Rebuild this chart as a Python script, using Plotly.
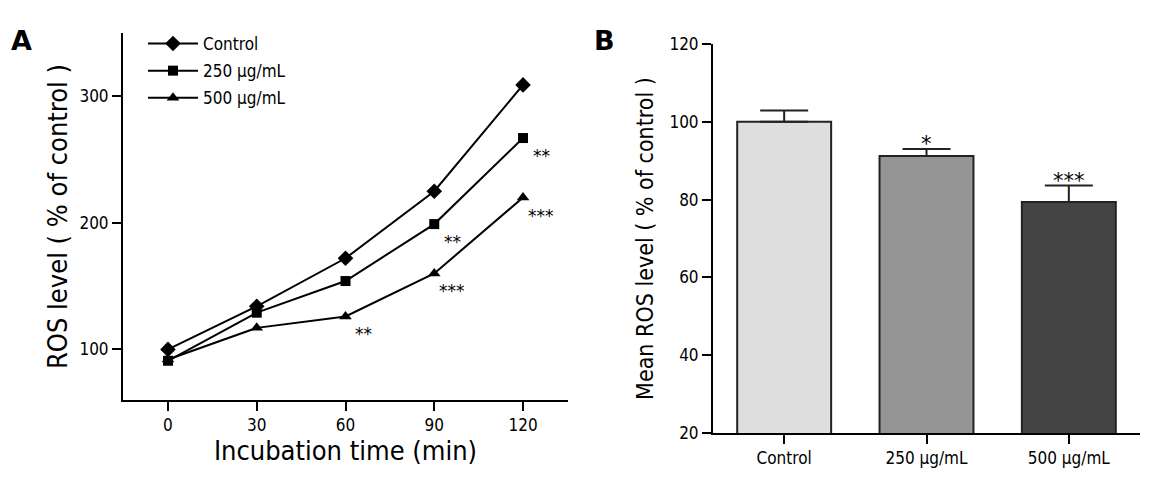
import plotly.graph_objects as go

# ---------------- data ----------------
time_min = [0, 30, 60, 90, 120]
control_line = [100, 134, 172, 225, 309]
dose250_line = [91, 129, 154, 199, 267]
dose500_line = [92, 117, 126, 160, 220]
line_names = ["Control", "250 μg/mL", "500 μg/mL"]

# significance marks for panel A: (series index, time index, label)
sig_a_series = [2, 1, 2, 1, 2]
sig_a_time = [2, 3, 3, 4, 4]
sig_a_label = ["**", "**", "***", "**", "***"]

bar_groups = ["Control", "250 μg/mL", "500 μg/mL"]
bar_means = [100.0, 91.2, 79.4]
bar_err = [2.9, 1.8, 4.2]
bar_sig = ["", "*", "***"]

bar_colors = ["#dedede", "#959595", "#444444"]
FONT = "DejaVu Sans Condensed, DejaVu Sans, sans-serif"
W, H = 1160, 481
OFF = 8  # page body margin


def X(px):
    return (px - OFF) / W


def Y(py):
    return 1 - (py - OFF) / H


fig = go.Figure()

series = [control_line, dose250_line, dose500_line]
symbols = ["diamond", "square", "triangle-up"]
sizes = [12, 10, 11]
for i, (vals, sym, sz) in enumerate(zip(series, symbols, sizes)):
    fig.add_trace(go.Scatter(
        x=time_min, y=vals, mode="lines+markers", name=line_names[i],
        legendgroup=f"g{i}",
        line=dict(color="black", width=2),
        marker=dict(symbol=sym, size=sz, color="black"),
        xaxis="x", yaxis="y",
    ))

fig.add_trace(go.Bar(
    x=bar_groups, y=bar_means, width=0.66,
    marker=dict(color=bar_colors, line=dict(color="#222222", width=2)),
    error_y=dict(type="data", array=bar_err, arrayminus=[0, 0, 0],
                 symmetric=False, color="#222222", thickness=2, width=24),
    showlegend=False, xaxis="x2", yaxis="y2",
))

# significance annotations
for s, t, lab in zip(sig_a_series, sig_a_time, sig_a_label):
    fig.add_annotation(x=time_min[t], y=series[s][t], xref="x", yref="y",
                       text=lab, showarrow=False, xanchor="center", yanchor="middle",
                       xshift=18, yshift=-18,
                       font=dict(family="DejaVu Sans, sans-serif", size=17, color="black"))
for g, m, e, lab in zip(bar_groups, bar_means, bar_err, bar_sig):
    if lab:
        fig.add_annotation(x=g, y=m + e, xref="x2", yref="y2", text=lab,
                           showarrow=False, xanchor="center", yanchor="middle",
                           yshift=5, font=dict(family="DejaVu Sans, sans-serif", size=21, color="black"))

# panel letters
fig.add_annotation(x=X(21), y=Y(40), xref="paper", yref="paper", text="<b>A</b>",
                   showarrow=False, xanchor="center", yanchor="middle",
                   font=dict(family="DejaVu Sans, sans-serif", size=27, color="black"))
fig.add_annotation(x=X(604), y=Y(40), xref="paper", yref="paper", text="<b>B</b>",
                   showarrow=False, xanchor="center", yanchor="middle",
                   font=dict(family="DejaVu Sans, sans-serif", size=27, color="black"))

axis_common = dict(showline=True, linecolor="black", linewidth=2, ticks="outside",
                   ticklen=9, tickwidth=2, tickcolor="black", showgrid=False,
                   zeroline=False, automargin=False,
                   tickfont=dict(family=FONT, size=17, color="black"))

fig.update_layout(
    width=W, height=H, margin=dict(l=0, r=0, t=0, b=0),
    paper_bgcolor="white", plot_bgcolor="white",
    font=dict(family=FONT, color="black"),
    xaxis=dict(domain=[X(123), X(568)], range=[-15.2, 135.2], tickvals=time_min,
               title=dict(text="Incubation time (min)", standoff=5,
                          font=dict(family=FONT, size=27, color="black")),
               anchor="y", **axis_common),
    yaxis=dict(domain=[Y(400), Y(33)], range=[60, 350], tickvals=[100, 200, 300],
               title=dict(text="ROS level ( % of control )", standoff=4,
                          font=dict(family=FONT, size=27, color="black")),
               anchor="x", **axis_common),
    xaxis2=dict(domain=[X(713), X(1140)], range=[-0.5, 2.5], anchor="y2",
                **axis_common),
    yaxis2=dict(domain=[Y(433), Y(44)], range=[20, 120],
                tickvals=[20, 40, 60, 80, 100, 120], anchor="x2",
                title=dict(text="Mean ROS level ( % of control )", standoff=9,
                           font=dict(family=FONT, size=23, color="black")),
                **axis_common),
    legend=dict(x=X(143), y=Y(26), xanchor="left", yanchor="top",
                bgcolor="rgba(0,0,0,0)", itemwidth=50, tracegroupgap=2,
                font=dict(family=FONT, size=17, color="black")),
    bargap=0.34,
)

fig.write_html("out.html")
